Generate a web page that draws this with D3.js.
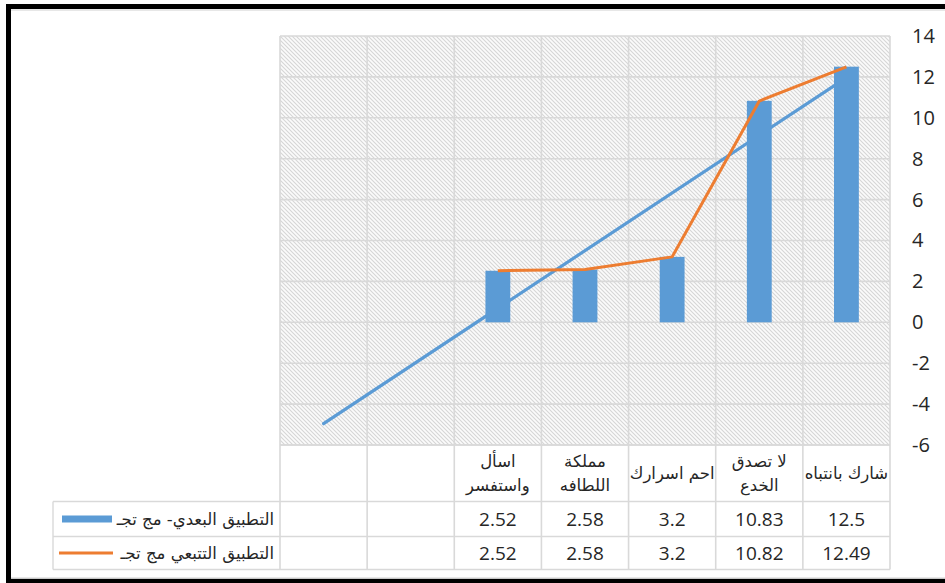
<!DOCTYPE html>
<html>
<head>
<meta charset="utf-8">
<script src="https://cdn.jsdelivr.net/npm/d3@7"></script>
<style>
  html, body { margin: 0; padding: 0; background: #fff; }
  svg { display: block; }
  .num { font-family: "Open Sans", "DejaVu Sans", sans-serif; fill: #262626; }
  .ar { font-family: "DejaVu Sans", "Noto Sans", sans-serif; fill: #262626; }
</style>
</head>
<body>
<svg id="chart" width="945" height="583"></svg>
<script>
// Categories in series order (the category axis runs right to left)
const categories = ["شارك بانتباه", "لا تصدق الخدع", "احم اسرارك", "مملكة اللطافه", "اسأل واستفسر", "", ""];
// Category labels as they wrap inside the data-table header
const categoryLines = [["شارك بانتباه"], ["لا تصدق", "الخدع"], ["احم اسرارك"], ["مملكة", "اللطافه"], ["اسأل", "واستفسر"], [], []];
const postValues = [12.5, 10.83, 3.2, 2.58, 2.52, null, null];
const trackValues = [12.49, 10.82, 3.2, 2.58, 2.52, null, null];
const postName = "التطبيق البعدي- مج تجـ";
const trackName = "التطبيق التتبعي مج تجـ";
const yTicks = [-6, -4, -2, 0, 2, 4, 6, 8, 10, 12, 14];
const trendForward = 2; // linear trendline forecast periods

const svg = d3.select("#chart");
const W = 945, H = 583;
const plot = { left: 280, right: 890, top: 36, bottom: 445 };
const table = { rowHead: 445, row1: 501.5, row2: 536.5, end: 569.5, legendLeft: 53 };
const gridColor = "#d9d9d9";
const blue = "#5b9bd5", orange = "#ed7d31";

// Hatched plot-area fill
const defs = svg.append("defs");
const pat = defs.append("pattern")
  .attr("id", "hatch").attr("patternUnits", "userSpaceOnUse")
  .attr("width", 4).attr("height", 4);
pat.append("rect").attr("width", 4).attr("height", 4).attr("fill", "#fbfbfb");
pat.append("path").attr("d", "M-1,-1 L5,5 M3,-1 L5,1 M-1,3 L1,5")
  .attr("stroke", "#d6d6d6").attr("stroke-width", 1.1);

svg.append("rect").attr("width", W).attr("height", H).attr("fill", "#fff");

const idx = d3.range(categories.length);
const x = d3.scaleBand().domain(idx).range([plot.right, plot.left]).paddingInner(0).paddingOuter(0);
const y = d3.scaleLinear().domain([d3.min(yTicks), d3.max(yTicks)]).range([plot.bottom, plot.top]);

svg.append("rect")
  .attr("x", plot.left).attr("y", plot.top)
  .attr("width", plot.right - plot.left).attr("height", plot.bottom - plot.top)
  .attr("fill", "url(#hatch)");

// Gridlines
const grid = svg.append("g").attr("stroke", gridColor).attr("stroke-width", 1.6);
grid.selectAll(".h").data(yTicks).join("line")
  .attr("x1", plot.left).attr("x2", plot.right)
  .attr("y1", d => y(d)).attr("y2", d => y(d));
const colEdges = idx.map(i => x(i)).concat([plot.right]);
grid.selectAll(".v").data(colEdges).join("line")
  .attr("x1", d => d).attr("x2", d => d)
  .attr("y1", plot.top).attr("y2", table.end);

// Value axis on the right
const axis = svg.append("g").attr("transform", `translate(${plot.right + 22},0)`)
  .call(d3.axisRight(y).tickValues(yTicks).tickSize(0).tickPadding(0).tickFormat(d => String(d)));
axis.select(".domain").remove();
axis.selectAll("text").attr("class", "num").attr("font-size", 20).attr("fill", "#262626")
  .style("font-family", "'Open Sans', sans-serif");

// Linear trendline of the post-test series, forecast forward
const pts = postValues.map((v, i) => ({ i: i + 1, v })).filter(d => d.v != null);
const mx = d3.mean(pts, d => d.i), my = d3.mean(pts, d => d.v);
const slope = d3.sum(pts, d => (d.i - mx) * (d.v - my)) / d3.sum(pts, d => (d.i - mx) ** 2);
const icpt = my - slope * mx;
const lastI = d3.max(pts, d => d.i) + trendForward;
const trend = [1, lastI].map(i => ({ k: i - 1, v: icpt + slope * i }));
const cx = i => x(i) + x.bandwidth() / 2;
svg.append("path")
  .attr("d", d3.line().x(d => cx(d.k)).y(d => y(d.v))(trend))
  .attr("fill", "none").attr("stroke", blue).attr("stroke-width", 3.2).attr("stroke-linecap", "round");

// Bars
const barW = x.bandwidth() * 0.285;
svg.append("g").selectAll("rect")
  .data(idx.filter(i => postValues[i] != null)).join("rect")
  .attr("x", i => cx(i) - barW / 2)
  .attr("width", barW)
  .attr("y", i => y(Math.max(0, postValues[i])))
  .attr("height", i => Math.abs(y(postValues[i]) - y(0)))
  .attr("fill", blue);

// Follow-up line
svg.append("path")
  .attr("d", d3.line().x(i => cx(i)).y(i => y(trackValues[i]))(idx.filter(i => trackValues[i] != null)))
  .attr("fill", "none").attr("stroke", orange).attr("stroke-width", 3).attr("stroke-linejoin", "round");

// Data table
const tg = svg.append("g").attr("stroke", gridColor).attr("stroke-width", 1.4);
tg.append("line").attr("x1", plot.left).attr("x2", plot.right).attr("y1", table.rowHead).attr("y2", table.rowHead);
[table.row1, table.row2, table.end].forEach(yy =>
  tg.append("line").attr("x1", table.legendLeft).attr("x2", plot.right).attr("y1", yy).attr("y2", yy));
tg.append("line").attr("x1", table.legendLeft).attr("x2", table.legendLeft).attr("y1", table.row1).attr("y2", table.end);

// Header labels
const head = svg.append("g");
idx.forEach(i => {
  const lines = categoryLines[i];
  const mid = (table.rowHead + table.row1) / 2;
  const lh = 24;
  lines.forEach((t, j) => {
    head.append("text").attr("class", "ar")
      .attr("x", cx(i)).attr("y", mid + (j - (lines.length - 1) / 2) * lh)
      .attr("dy", "0.35em").attr("text-anchor", "middle")
      .attr("font-size", 16.5).attr("direction", "rtl").text(t);
  });
});

// Value rows
const rows = [
  { vals: postValues, top: table.row1, bot: table.row2 },
  { vals: trackValues, top: table.row2, bot: table.end }
];
rows.forEach(r => {
  idx.forEach(i => {
    if (r.vals[i] == null) return;
    svg.append("text").attr("class", "num")
      .attr("x", cx(i)).attr("y", (r.top + r.bot) / 2).attr("dy", "0.36em")
      .attr("text-anchor", "middle").attr("font-size", 19).text(r.vals[i]);
  });
});

// Legend keys inside the table
const r1m = (table.row1 + table.row2) / 2, r2m = (table.row2 + table.end) / 2;
svg.append("rect").attr("x", 62).attr("y", r1m - 3.5).attr("width", 50).attr("height", 7).attr("fill", blue);
svg.append("line").attr("x1", 59).attr("x2", 113).attr("y1", r2m).attr("y2", r2m)
  .attr("stroke", orange).attr("stroke-width", 3);
svg.append("text").attr("class", "ar").attr("x", 274).attr("y", r1m).attr("dy", "0.35em")
  .attr("text-anchor", "end").attr("font-size", 16.5).text(postName);
svg.append("text").attr("class", "ar").attr("x", 274).attr("y", r2m).attr("dy", "0.35em")
  .attr("text-anchor", "end").attr("font-size", 16.5).text(trackName);

// Frame
svg.append("line").attr("x1", 6).attr("x2", W).attr("y1", 6.5).attr("y2", 6.5).attr("stroke", "#000").attr("stroke-width", 5);
svg.append("line").attr("x1", 8.5).attr("x2", 8.5).attr("y1", 4).attr("y2", H).attr("stroke", "#000").attr("stroke-width", 5);
svg.append("line").attr("x1", 6).attr("x2", W).attr("y1", 581).attr("y2", 581).attr("stroke", "#000").attr("stroke-width", 4.5);
svg.append("line").attr("x1", 11).attr("x2", W).attr("y1", 10).attr("y2", 10).attr("stroke", "#d0d0d0").attr("stroke-width", 1);
svg.append("line").attr("x1", 11).attr("x2", W).attr("y1", 578).attr("y2", 578).attr("stroke", "#d0d0d0").attr("stroke-width", 1);
</script>
</body>
</html>
